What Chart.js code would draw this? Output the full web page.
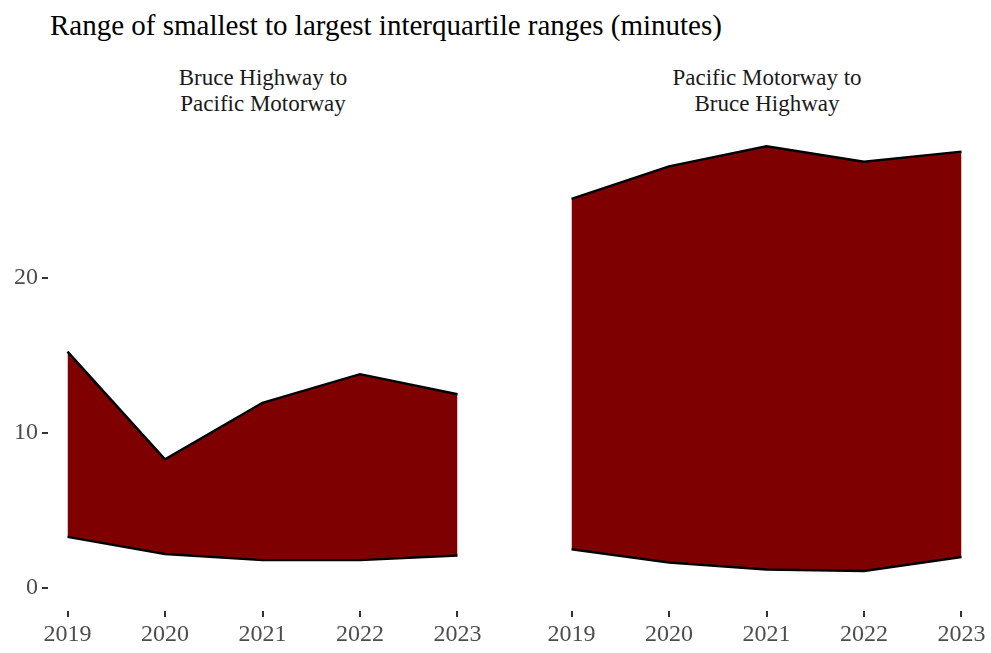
<!DOCTYPE html>
<html>
<head>
<meta charset="utf-8">
<script src="https://cdn.jsdelivr.net/npm/chart.js@4.4.1/dist/chart.umd.min.js"></script>
<style>
  body { margin: 0; background: #fff; font-family: "Liberation Serif", "Times New Roman", serif; }
  #wrap { position: relative; width: 991px; height: 653px; overflow: hidden; }
  .box { position: absolute; top: 0; height: 653px; }
  #title { position: absolute; left: 50px; top: 8px; font-size: 29px; line-height: 34px; color: #000; white-space: nowrap; }
  .strip { position: absolute; top: 65px; font-size: 23px; line-height: 26px; color: #1a1a1a; text-align: center; width: 430px; }
</style>
</head>
<body>
<div id="wrap">
  <div id="title">Range of smallest to largest interquartile ranges (minutes)</div>
  <div class="strip" style="left:48px">Bruce Highway to<br>Pacific Motorway</div>
  <div class="strip" style="left:552px">Pacific Motorway to<br>Bruce Highway</div>
  <div class="box" style="left:0;width:500px"><canvas id="left"></canvas></div>
  <div class="box" style="left:490px;width:501px"><canvas id="right"></canvas></div>
</div>
<script>
const years = [2019, 2020, 2021, 2022, 2023];
const yTicks = [0, 10, 20];

// Bruce Highway to Pacific Motorway
const bruceLow  = [3.3, 2.2, 1.8, 1.8, 2.1];
const bruceHigh = [15.25, 8.3, 11.95, 13.8, 12.5];

// Pacific Motorway to Bruce Highway
const pacificLow  = [2.5, 1.65, 1.2, 1.1, 2.0];
const pacificHigh = [25.1, 27.2, 28.5, 27.5, 28.15];

const fillColor = '#7f0000';
const tickColor = '#4d4d4d';
const font = { family: '"Liberation Serif", "Times New Roman", serif', size: 24 };

function band(low, high) {
  const pts = arr => years.map((y, i) => ({ x: y, y: arr[i] }));
  return [
    { data: pts(low), borderColor: '#000', borderWidth: 2.4, pointRadius: 0, fill: false, tension: 0 },
    { data: pts(high), borderColor: '#000', borderWidth: 2.4, pointRadius: 0, fill: '-1', backgroundColor: fillColor, tension: 0 }
  ];
}

function makeChart(id, low, high, showY, padding) {
  return new Chart(id, {
    type: 'line',
    data: { datasets: band(low, high) },
    options: {
      responsive: true,
      maintainAspectRatio: false,
      animation: false,
      layout: { padding: padding, autoPadding: false },
      plugins: { legend: { display: false }, tooltip: { enabled: false } },
      scales: {
        x: {
          type: 'linear',
          min: 2018.8,
          max: 2023.2,
          border: { display: false },
          grid: { drawOnChartArea: false, drawTicks: true, tickLength: 6, color: '#333', lineWidth: 2 },
          afterBuildTicks: s => { s.ticks = years.map(v => ({ value: v })); },
          afterFit: s => { s.height = 42; },
          ticks: { color: tickColor, font: font, padding: 3, maxRotation: 0, autoSkip: false, callback: v => String(v) }
        },
        y: {
          display: showY,
          min: -1.48,
          max: 29.87,
          border: { display: false },
          grid: { drawOnChartArea: false, drawTicks: true, tickLength: 6, color: '#333', lineWidth: 2 },
          afterBuildTicks: s => { s.ticks = yTicks.map(v => ({ value: v })); },
          afterFit: s => { s.width = showY ? 48 : 0; },
          ticks: { color: tickColor, font: font, padding: 4 }
        }
      }
    }
  });
}

makeChart('left', bruceLow, bruceHigh, true, { top: 125, left: 0, right: 23, bottom: 0 });
makeChart('right', pacificLow, pacificHigh, false, { top: 125, left: 62, right: 10, bottom: 0 });
</script>
</body>
</html>
